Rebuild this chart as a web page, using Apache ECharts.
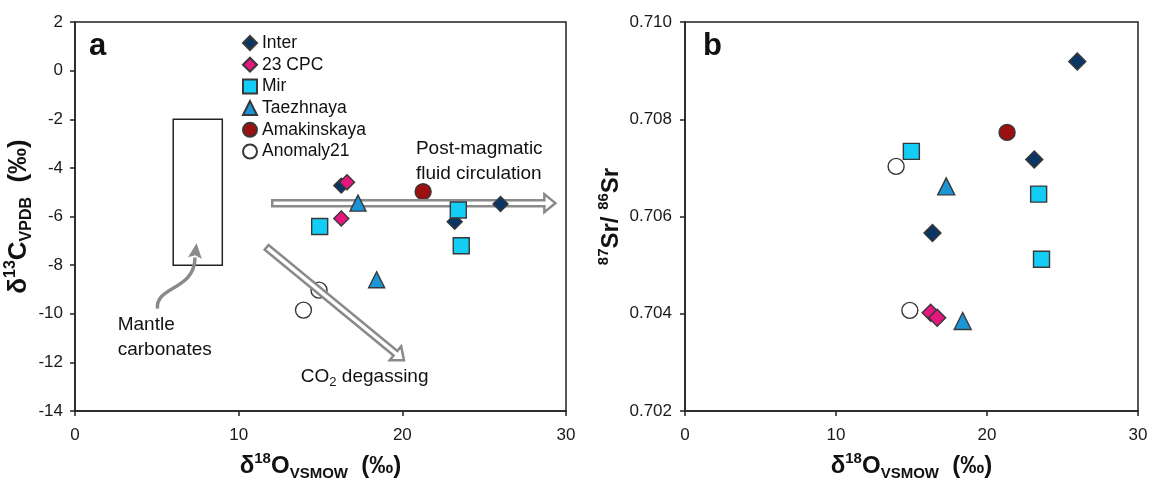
<!DOCTYPE html>
<html><head><meta charset="utf-8">
<script src="https://cdn.jsdelivr.net/npm/echarts@6/dist/echarts.min.js"></script>
<style>html,body{margin:0;padding:0;background:#fff}#c{width:1150px;height:478px}</style>
</head><body><div id="c"></div>
<script>
const FONT = '"Liberation Sans", Arial, sans-serif';
const seriesNames = ['Inter', '23 CPC', 'Mir', 'Taezhnaya', 'Amakinskaya', 'Anomaly21'];

// Panel a: [δ18O VSMOW, δ13C VPDB]
const interA = [[16.27, -4.73], [23.2, -6.22], [26.0, -5.49]];
const cpcA = [[16.27, -6.08], [16.62, -4.59]];
const mirA = [[14.95, -6.41], [23.42, -5.73], [23.6, -7.2]];
const taezA = [[17.29, -5.45], [18.43, -8.6]];
const amakA = [[21.27, -4.98]];
const anomA = [[14.91, -9.03], [13.96, -9.85]];

// Panel b: [δ18O VSMOW, 87Sr/86Sr]
const interB = [[16.39, 0.70566], [23.13, 0.70717], [25.98, 0.70919]];
const cpcB = [[16.27, 0.70402], [16.70, 0.70392]];
const mirB = [[14.99, 0.70734], [23.42, 0.70646], [23.61, 0.70512]];
const taezB = [[17.30, 0.70662], [18.39, 0.70385]];
const amakB = [[21.33, 0.70773]];
const anomB = [[13.98, 0.70703], [14.89, 0.70407]];

// Axis ticks
const xTicks = [0, 10, 20, 30];
const yTicksA = [-14, -12, -10, -8, -6, -4, -2, 0, 2];
const yTicksB = [0.702, 0.704, 0.706, 0.708, 0.710];

// Annotations (panel a, data coordinates)
const mantleBox = [[6, -2], [9, -8]];
const postArrow = [[12.05, -5.45], [29.35, -5.45]];
const co2Arrow = [[11.71, -7.27], [20.1, -11.91]];
const mantleCurve = [[5.04, -9.79], [4.89, -8.85], [7.33, -9.05], [7.33, -7.69]];
const mantleTip = [7.43, -7.1];
const postText = [[20.83, -3.2, 'Post-magmatic'], [20.83, -4.24, 'fluid circulation']];
const mantleText = [[2.61, -10.45, 'Mantle'], [2.61, -11.48, 'carbonates']];
const co2Text = [13.8, -12.6];

const colors = {
  'Inter': '#0b3563', '23 CPC': '#e4177f', 'Mir': '#14cdf5',
  'Taezhnaya': '#1a95d6', 'Amakinskaya': '#9b1010', 'Anomaly21': '#ffffff'
};
const symbols = {
  'Inter': 'diamond', '23 CPC': 'diamond', 'Mir': 'rect',
  'Taezhnaya': 'triangle', 'Amakinskaya': 'circle', 'Anomaly21': 'circle'
};
const sizesA = { 'Inter': 15, '23 CPC': 15, 'Mir': 16, 'Taezhnaya': 16, 'Amakinskaya': 16, 'Anomaly21': 16 };
const sizesB = { 'Inter': 17, '23 CPC': 17, 'Mir': 16, 'Taezhnaya': 17, 'Amakinskaya': 16, 'Anomaly21': 16 };
const zA = { 'Inter': 5, '23 CPC': 5, 'Mir': 5, 'Taezhnaya': 5, 'Amakinskaya': 2, 'Anomaly21': 2 };

const dataA = { 'Inter': interA, '23 CPC': cpcA, 'Mir': mirA, 'Taezhnaya': taezA, 'Amakinskaya': amakA, 'Anomaly21': anomA };
const dataB = { 'Inter': interB, '23 CPC': cpcB, 'Mir': mirB, 'Taezhnaya': taezB, 'Amakinskaya': amakB, 'Anomaly21': anomB };

function scatter(name, data, gi, size, z) {
  return {
    type: 'scatter', name, xAxisIndex: gi, yAxisIndex: gi, data,
    symbol: symbols[name], symbolSize: size, z,
    itemStyle: { color: colors[name], borderColor: '#383838', borderWidth: 1.4, opacity: 1 },
    emphasis: { disabled: true }, animation: false
  };
}

function richTitle(main, small, lh) {
  return {
    b: { fontFamily: FONT, fontSize: main, fontWeight: 'bold', color: '#111', lineHeight: lh, verticalAlign: 'middle' },
    sup: { fontFamily: FONT, fontSize: small, fontWeight: 'bold', color: '#111', lineHeight: small + 1, verticalAlign: 'top' },
    sub: { fontFamily: FONT, fontSize: small, fontWeight: 'bold', color: '#111', lineHeight: small + 1, verticalAlign: 'bottom' }
  };
}

function xAxisDef(gi) {
  return {
    type: 'value', gridIndex: gi, min: xTicks[0], max: xTicks[xTicks.length - 1], interval: xTicks[1] - xTicks[0],
    name: '{b|δ}{sup|18}{b|O}{sub|VSMOW}{b|  (‰)}', nameLocation: 'middle', nameGap: 40,
    nameTextStyle: { rich: richTitle(24, 15, 30) },
    axisLine: { show: true, onZero: false, lineStyle: { color: '#222', width: 1.5 } },
    axisTick: { show: true, inside: false, length: 5, lineStyle: { color: '#222', width: 1.5 } },
    axisLabel: { margin: 16, fontFamily: FONT, fontSize: 17, color: '#1a1a1a' },
    splitLine: { show: false }
  };
}

const gridCommon = { show: true, borderColor: '#222', borderWidth: 1.5, backgroundColor: 'transparent', containLabel: false, outerBoundsMode: 'none' };

const option = {
  backgroundColor: '#fff',
  animation: false,
  grid: [
    Object.assign({ left: 75, top: 22, width: 491, height: 389 }, gridCommon),
    Object.assign({ left: 685, top: 22, width: 453, height: 389 }, gridCommon)
  ],
  xAxis: [xAxisDef(0), xAxisDef(1)],
  yAxis: [
    {
      type: 'value', gridIndex: 0, min: yTicksA[0], max: yTicksA[yTicksA.length - 1], interval: yTicksA[1] - yTicksA[0],
      name: '{b|δ}{sup|13}{b|C}{sub|VPDB}{b|  (‰)}', nameLocation: 'middle', nameRotate: 90, nameGap: 28,
      nameTextStyle: { rich: richTitle(26, 16, 32) },
      axisLine: { show: true, onZero: false, lineStyle: { color: '#222', width: 1.5 } },
      axisTick: { show: true, inside: false, length: 5, lineStyle: { color: '#222', width: 1.5 } },
      axisLabel: { margin: 12, fontFamily: FONT, fontSize: 17, color: '#1a1a1a' },
      splitLine: { show: false }
    },
    {
      type: 'value', gridIndex: 1, min: yTicksB[0], max: yTicksB[yTicksB.length - 1], interval: 0.002,
      name: '{sup|87}{b|Sr/ }{sup|86}{b|Sr}', nameLocation: 'middle', nameRotate: 90, nameGap: 59,
      nameTextStyle: { rich: richTitle(24, 15, 30) },
      axisLine: { show: true, onZero: false, lineStyle: { color: '#222', width: 1.5 } },
      axisTick: { show: true, inside: false, length: 5, lineStyle: { color: '#222', width: 1.5 } },
      axisLabel: { margin: 13, fontFamily: FONT, fontSize: 17, color: '#1a1a1a', formatter: v => v.toFixed(3) },
      splitLine: { show: false }
    }
  ],
  legend: {
    data: seriesNames, orient: 'vertical', left: 237, top: 29,
    itemWidth: 14, itemHeight: 14, itemGap: 3.7, selectedMode: false,
    textStyle: { fontFamily: FONT, fontSize: 17.5, color: '#111' }
  },
  series: [
    ...seriesNames.map(n => scatter(n, dataA[n], 0, sizesA[n], zA[n])),
    ...seriesNames.map(n => scatter(n, dataB[n], 1, sizesB[n], 5))
  ]
};

const chart = echarts.init(document.getElementById('c'), null, { renderer: 'canvas' });
chart.setOption(option);

function px(p) { return chart.convertToPixel({ gridIndex: 0 }, [p[0], p[1]]); }

function blockArrow(p0, p1, w, h, L) {
  const dx = p1[0] - p0[0], dy = p1[1] - p0[1];
  const len = Math.hypot(dx, dy);
  const ux = dx / len, uy = dy / len, nx = -uy, ny = ux;
  const bx = p1[0] - ux * L, by = p1[1] - uy * L;
  return [
    [p0[0] + nx * w, p0[1] + ny * w], [bx + nx * w, by + ny * w], [bx + nx * h, by + ny * h],
    [p1[0], p1[1]],
    [bx - nx * h, by - ny * h], [bx - nx * w, by - ny * w], [p0[0] - nx * w, p0[1] - ny * w]
  ];
}

const GRAY = '#8a8a8a';
const graphics = [];
// Mantle carbonates box
const b0 = px(mantleBox[0]), b1 = px(mantleBox[1]);
graphics.push({
  type: 'rect', z: 3, silent: true,
  shape: { x: Math.min(b0[0], b1[0]), y: Math.min(b0[1], b1[1]), width: Math.abs(b1[0] - b0[0]), height: Math.abs(b1[1] - b0[1]) },
  style: { fill: 'none', stroke: '#222', lineWidth: 1.5 }
});
// block arrows
[postArrow, co2Arrow].forEach(a => {
  graphics.push({
    type: 'polygon', z: 3, silent: true,
    shape: { points: blockArrow(px(a[0]), px(a[1]), 3, 9, 11) },
    style: { fill: '#fff', stroke: GRAY, lineWidth: 2.5, lineJoin: 'miter' }
  });
});
// curved arrow
const c = mantleCurve.map(px);
graphics.push({
  type: 'bezierCurve', z: 3, silent: true,
  shape: { x1: c[0][0], y1: c[0][1], cpx1: c[1][0], cpy1: c[1][1], cpx2: c[2][0], cpy2: c[2][1], x2: c[3][0], y2: c[3][1] },
  style: { fill: 'none', stroke: GRAY, lineWidth: 3.5 }
});
(function () {
  const tip = px(mantleTip), base = c[3];
  const dx = tip[0] - base[0], dy = tip[1] - base[1];
  const len = Math.hypot(dx, dy);
  const ux = dx / len, uy = dy / len, nx = -uy, ny = ux;
  const L = 15, hw = 7, notch = 3;
  const bx = tip[0] - ux * L, by = tip[1] - uy * L;
  graphics.push({
    type: 'polygon', z: 3, silent: true,
    shape: { points: [tip, [bx + nx * hw, by + ny * hw], [bx + ux * notch, by + uy * notch], [bx - nx * hw, by - ny * hw]] },
    style: { fill: GRAY, stroke: 'none' }
  });
})();
// texts
const textStyle = { fontFamily: FONT, fontSize: 19, fill: '#111', textVerticalAlign: 'middle', textAlign: 'left' };
[...postText, ...mantleText].forEach(t => {
  const p = px(t);
  graphics.push({ type: 'text', z: 6, silent: true, style: Object.assign({ text: t[2], x: p[0], y: p[1] }, textStyle) });
});
(function () {
  const p = px(co2Text);
  graphics.push({
    type: 'text', z: 6, silent: true,
    style: Object.assign({
      text: '{m|CO}{s|2}{m| degassing}', x: p[0], y: p[1],
      rich: {
        m: { fontFamily: FONT, fontSize: 19, fill: '#111', lineHeight: 24, verticalAlign: 'middle' },
        s: { fontFamily: FONT, fontSize: 13, fill: '#111', lineHeight: 13, verticalAlign: 'bottom' }
      }
    }, { textVerticalAlign: 'middle', textAlign: 'left' })
  });
})();
// panel letters
graphics.push({ type: 'text', z: 6, silent: true, style: { text: 'a', x: 89, y: 46, fontFamily: FONT, fontSize: 31, fontWeight: 'bold', fill: '#111', textVerticalAlign: 'middle' } });
graphics.push({ type: 'text', z: 6, silent: true, style: { text: 'b', x: 703, y: 46, fontFamily: FONT, fontSize: 31, fontWeight: 'bold', fill: '#111', textVerticalAlign: 'middle' } });

chart.setOption({ graphic: { elements: graphics } });
</script>
</body></html>
